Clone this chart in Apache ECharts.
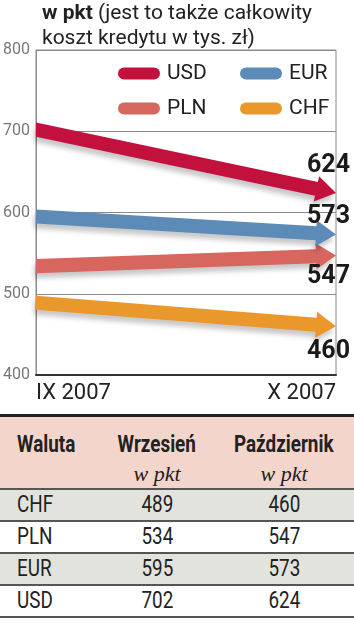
<!DOCTYPE html>
<html>
<head>
<meta charset="utf-8">
<script src="https://cdn.jsdelivr.net/npm/echarts@6/dist/echarts.min.js"></script>
<style>
  html, body { margin: 0; padding: 0; background: #fff; }
  #wrap { position: relative; width: 354px; height: 640px; overflow: hidden; }
  #chart { position: absolute; left: 0; top: 0; width: 354px; height: 414px; }
  #tbl {
    position: absolute; left: 0; top: 414px; width: 354px;
    border-collapse: collapse; table-layout: fixed;
    font-family: Roboto, sans-serif; color: #222; font-size: 23px;
  }
  #tbl thead tr { background: #f4d5cb; border-top: 3px solid #222; }
  #tbl th { font-weight: bold; font-size: 23px; height: 52px; vertical-align: top; padding: 13px 0 0 0; line-height: 29px; border-bottom: 2px solid #555; }
  #tbl th i { font-family: "Liberation Serif", "DejaVu Serif", serif; font-weight: normal; font-size: 22px; }
  #tbl td { height: 30px; padding: 0; line-height: 30px; border-bottom: 2px solid #555; }
  #tbl tbody tr:nth-child(odd) { background: #e3e3dd; }
  #tbl .c1 { text-align: left; padding-left: 17px; }
  #tbl .c2, #tbl .c3 { text-align: center; }
  #tbl .n { display: inline-block; transform: scaleX(0.82); }
  #tbl .c1 .n { transform-origin: left center; }
</style>
</head>
<body>
<div id="wrap">
  <div id="chart"></div>
  <table id="tbl"></table>
</div>
<script>
// dane
const categories = ['IX 2007', 'X 2007'];
const currencies = ['CHF', 'PLN', 'EUR', 'USD'];
const september = [489, 534, 595, 702];
const october = [460, 547, 573, 624];
const colors = { CHF: '#ea982c', PLN: '#d6665e', EUR: '#5b8bb6', USD: '#c3113e' };
// label above (-) or below (+) the arrow tip
const labelShift = { CHF: 25, PLN: 21, EUR: -18, USD: -27 };
const legendPos = { USD: [113, 58], EUR: [235, 58], PLN: [113, 93], CHF: [235, 93] };

const chart = echarts.init(document.getElementById('chart'));

function renderArrow(params, api) {
  const a = api.coord([api.value(0), api.value(1)]);
  const b = api.coord([api.value(2), api.value(3)]);
  const dx = b[0] - a[0], dy = b[1] - a[1];
  const len = Math.sqrt(dx * dx + dy * dy);
  const ux = dx / len, uy = dy / len;
  const nx = -uy, ny = ux;
  const sw = 7, hw = 13, hl = 20;
  const bx = b[0] - ux * hl, by = b[1] - uy * hl;
  const k = sw / ux; // vertical cut at the start
  const pts = [
    [a[0], a[1] - k],
    [bx + nx * -sw, by + ny * -sw],
    [bx + nx * -hw, by + ny * -hw],
    [b[0], b[1]],
    [bx + nx * hw, by + ny * hw],
    [bx + nx * sw, by + ny * sw],
    [a[0], a[1] + k]
  ];
  const name = currencies[params.seriesIndex];
  return {
    type: 'group',
    children: [{
      type: 'polygon',
      shape: { points: pts },
      style: {
        fill: colors[name],
        shadowColor: 'rgba(0,0,0,0.22)',
        shadowBlur: 5,
        shadowOffsetX: -2,
        shadowOffsetY: 5
      }
    }, {
      type: 'text',
      z2: 10,
      style: {
        text: String(api.value(3)),
        x: b[0] + 14,
        y: b[1] + labelShift[name],
        align: 'right',
        verticalAlign: 'middle',
        font: 'bold 25px Roboto, sans-serif',
        fill: '#1a1a1a'
      }
    }]
  };
}

const series = currencies.map(function (c, i) {
  return {
    name: c,
    type: 'custom',
    renderItem: renderArrow,
    itemStyle: { color: colors[c] },
    encode: { x: [0, 2], y: [1, 3] },
    data: [[0, september[i], 1, october[i]]],
    z: 3
  };
});

const capsule = 'path://M6,0 H36 A6,6 0 0 1 36,12 H6 A6,6 0 0 1 6,0 Z';
const legends = ['USD', 'EUR', 'PLN', 'CHF'].map(function (c) {
  return {
    data: [c],
    left: legendPos[c][0],
    top: legendPos[c][1],
    icon: capsule,
    itemWidth: 42,
    itemHeight: 12,
    selectedMode: false,
    textStyle: { fontSize: 21, color: '#222', fontFamily: 'Roboto, sans-serif', padding: [0, 0, 0, 2] }
  };
});

chart.setOption({
  animation: false,
  title: {
    text: '{b|w pkt} (jest to także całkowity\nkoszt kredytu w tys. zł)',
    left: 42,
    top: 1,
    padding: 0,
    textStyle: {
      fontSize: 21, fontWeight: 'normal', color: '#222', lineHeight: 25,
      fontFamily: 'Roboto, sans-serif',
      rich: { b: { fontWeight: 'bold', fontSize: 21, color: '#222', fontFamily: 'Roboto, sans-serif', lineHeight: 25 } }
    }
  },
  legend: legends,
  grid: {
    left: 36, right: 18, top: 50, bottom: 39,
    show: true, borderColor: '#8a8a8a', borderWidth: 1
  },
  xAxis: {
    type: 'category',
    data: categories,
    boundaryGap: false,
    axisTick: { show: false },
    axisLine: { lineStyle: { color: '#333', width: 2 } },
    axisLabel: {
      fontSize: 22, color: '#222', margin: 7,
      fontFamily: 'Roboto, sans-serif',
      alignMinLabel: 'left', alignMaxLabel: 'right'
    }
  },
  yAxis: {
    type: 'value',
    min: 400, max: 800, interval: 100,
    axisLine: { show: true, lineStyle: { color: '#8a8a8a' } },
    axisTick: { show: false },
    splitLine: { lineStyle: { color: '#8a8a8a' } },
    axisLabel: { fontSize: 16, color: '#777', margin: 6, fontFamily: 'Roboto, sans-serif' }
  },
  series: series
});

// tabela
const tbl = document.getElementById('tbl');
const n = function (s) { return '<span class="n">' + s + '</span>'; };
let html = '<colgroup><col style="width:100px"><col style="width:114px"><col style="width:140px"></colgroup>';
html += '<thead><tr><th class="c1">' + n('Waluta') + '</th><th class="c2">' + n('Wrzesień') +
        '<br><i>w pkt</i></th><th class="c3">' + n('Październik') + '<br><i>w pkt</i></th></tr></thead><tbody>';
currencies.forEach(function (c, i) {
  html += '<tr><td class="c1">' + n(c) + '</td><td class="c2">' + n(september[i]) +
          '</td><td class="c3">' + n(october[i]) + '</td></tr>';
});
html += '</tbody>';
tbl.innerHTML = html;
</script>
</body>
</html>
